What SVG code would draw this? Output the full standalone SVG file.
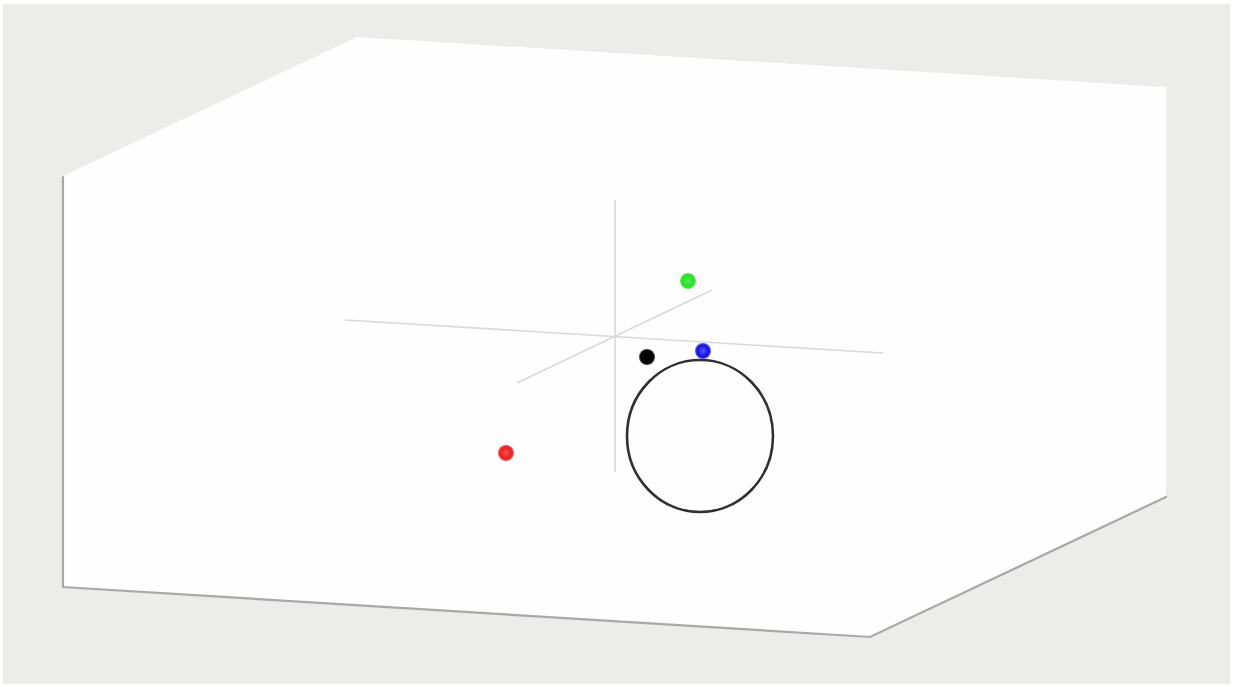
<svg xmlns="http://www.w3.org/2000/svg" width="1233" height="687" viewBox="0 0 1233 687">
<defs>
<style>
.axis{stroke:#d9d9d9;stroke-width:1.6;fill:none}
.edge{stroke:#a8a8a8;stroke-width:2.2;fill:none;stroke-linecap:round}
</style>
<radialGradient id="gR" cx="0.5" cy="0.5" r="0.5"><stop offset="0" stop-color="#ff5050"/><stop offset="0.7" stop-color="#e82020"/><stop offset="1" stop-color="#e86060"/></radialGradient>
<radialGradient id="gG" cx="0.5" cy="0.5" r="0.5"><stop offset="0" stop-color="#50f050"/><stop offset="0.7" stop-color="#28e028"/><stop offset="1" stop-color="#70e070"/></radialGradient>
<radialGradient id="gB" cx="0.5" cy="0.5" r="0.5"><stop offset="0" stop-color="#5a5aff"/><stop offset="0.7" stop-color="#1010e0"/><stop offset="1" stop-color="#6060e0"/></radialGradient>
<radialGradient id="gK" cx="0.5" cy="0.5" r="0.5"><stop offset="0" stop-color="#000"/><stop offset="0.8" stop-color="#050505"/><stop offset="1" stop-color="#555"/></radialGradient>
</defs>
<rect x="0" y="0" width="1233" height="687" fill="#ffffff"/>
<rect x="3" y="4" width="1227" height="680" fill="#ececea"/>
<g id="box">
<polygon points="63,176 357,37 1166,87 1166,497 870,638 63,587" fill="#fefefe"/>
<polyline class="edge" points="63,177 63,587 870,637 1166,497"/>
</g>
<g id="axes">
<line class="axis" x1="615" y1="200" x2="615" y2="472"/>
<line class="axis" x1="345" y1="320" x2="883" y2="353"/>
<line class="axis" x1="517" y1="383" x2="712" y2="290"/>
</g>
<g id="ring">
<ellipse cx="700" cy="436" rx="73" ry="76" fill="none" stroke="#303030" stroke-width="2.6"/>
</g>
<g id="dot-green"><circle cx="688" cy="281" r="8" fill="url(#gG)"/></g>
<g id="dot-black"><circle cx="647" cy="357" r="8" fill="url(#gK)"/></g>
<g id="dot-blue"><circle cx="703" cy="351" r="8" fill="url(#gB)"/></g>
<g id="dot-red"><circle cx="506" cy="453" r="8" fill="url(#gR)"/></g>
</svg>
